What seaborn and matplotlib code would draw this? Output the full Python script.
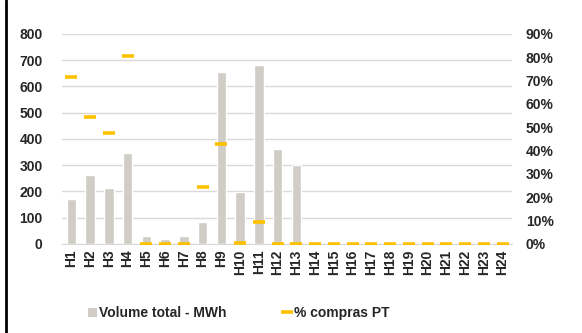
import numpy as np
import pandas as pd
import matplotlib
matplotlib.use('Agg')
import matplotlib.pyplot as plt
import seaborn as sns
from matplotlib.patches import Patch
from matplotlib.lines import Line2D

# Data
hours = ['H' + str(i) for i in range(1, 25)]
volume = [170, 263, 213, 347, 30, 20, 29, 85, 656, 197, 682, 361, 301,
          0, 0, 0, 0, 0, 0, 0, 0, 0, 0, 0]
pct_pt = [71.5, 54.3, 47.6, 80.6, 0, 0, 0, 24.6, 43.0, 0.6, 9.4, 0, 0,
          0, 0, 0, 0, 0, 0, 0, 0, 0, 0, 0]
left_ticks = [0, 100, 200, 300, 400, 500, 600, 700, 800]
right_ticks = [0, 10, 20, 30, 40, 50, 60, 70, 80, 90]

df = pd.DataFrame({'Hora': hours, 'Volume': volume, 'Pct': pct_pt})

sns.set_style('white')
plt.rcParams['font.family'] = ['Liberation Sans', 'DejaVu Sans']
plt.rcParams['font.weight'] = 'bold'

bar_color = '#D0CCC6'
dash_color = '#FFC000'
grid_color = '#D9D9D9'
fs = 10

fig = plt.figure(figsize=(5.82, 3.33), dpi=100)
ax = fig.add_axes([0.1065, 0.2673, 0.7732, 0.6307])

sns.barplot(data=df, x='Hora', y='Volume', color=bar_color, width=0.5,
            saturation=1, ax=ax, zorder=2)
ax.set_ylim(0, 800)
ax.set_yticks(left_ticks)
ax.set_xlim(-0.5, 23.5)
ax.grid(axis='y', color=grid_color, linewidth=1, zorder=0)
ax.set_axisbelow(True)
for s in ['left', 'right', 'top']:
    ax.spines[s].set_visible(False)
ax.spines['bottom'].set_color(grid_color)
ax.set_xlabel('')
ax.set_ylabel('')
ax.tick_params(axis='both', length=0, labelsize=fs)
ax.tick_params(axis='y', pad=14)
ax.tick_params(axis='x', rotation=90, pad=4)
for lab in ax.get_xticklabels() + ax.get_yticklabels():
    lab.set_fontweight('bold')

ax2 = ax.twinx()
ax2.plot(df['Hora'], df['Pct'], linestyle='none', marker='_',
         markersize=8.5, markeredgewidth=2.6, color=dash_color, zorder=3)
ax2.set_ylim(0, 90)
ax2.set_yticks(right_ticks)
ax2.set_yticklabels([f'{t}%' for t in right_ticks])
ax2.set_xlim(-0.5, 23.5)
for s in ['left', 'right', 'top', 'bottom']:
    ax2.spines[s].set_visible(False)
ax2.tick_params(axis='y', length=0, labelsize=fs, pad=10)
for lab in ax2.get_yticklabels():
    lab.set_fontweight('bold')

handles = [Patch(facecolor=bar_color, edgecolor='none'),
           Line2D([], [], linestyle='none', marker='_', markersize=8,
                  markeredgewidth=2.6, color=dash_color)]
fig.legend(handles, ['Volume total - MWh', '% compras PT'], loc='center',
           bbox_to_anchor=(0.41, 0.06), ncol=2, frameon=False,
           prop={'size': fs, 'weight': 'bold'}, handlelength=0.6,
           handleheight=0.6, handletextpad=0.2, columnspacing=4.0)

# left border of the chart frame
fig.add_artist(Line2D([6 / 582, 6 / 582], [0, 1], color='black',
                      linewidth=2, transform=fig.transFigure))

fig.savefig('out.png', dpi=100)
